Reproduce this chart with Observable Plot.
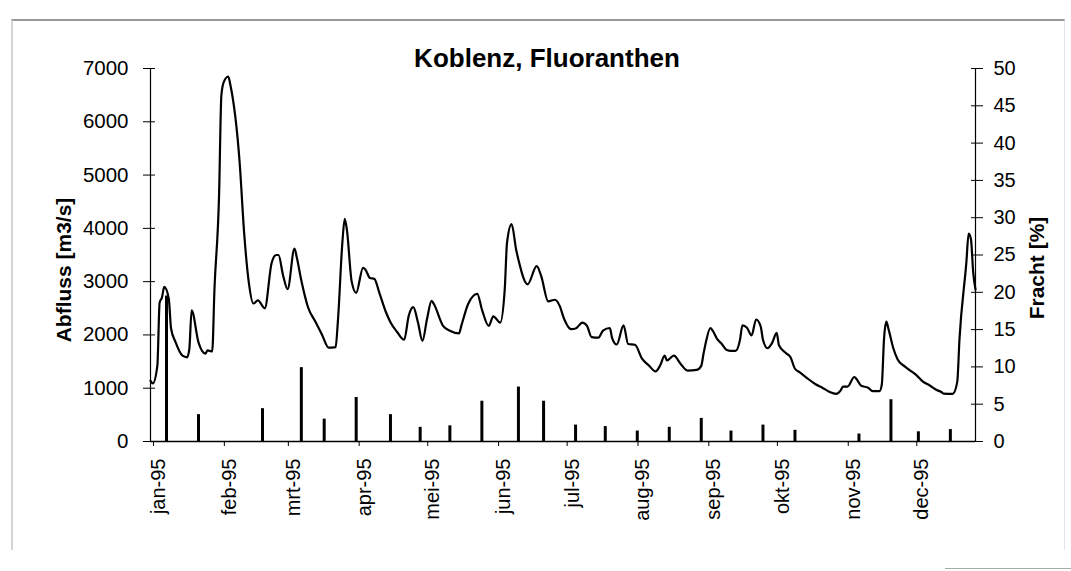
<!DOCTYPE html>
<html>
<head>
<meta charset="utf-8">
<script src="https://cdn.jsdelivr.net/npm/d3@7"></script>
<script src="https://cdn.jsdelivr.net/npm/@observablehq/plot@0.6"></script>
<style>
  html, body { margin: 0; padding: 0; background: #fff; }
  #wrap { position: relative; width: 1071px; height: 571px; overflow: hidden; font-family: "Liberation Sans", Arial, sans-serif; }
  #frame { position: absolute; left: 11px; top: 19px; width: 1051px; height: 529px;
           border-top: 2px solid #999; border-left: 2px solid #d4d4d4; border-right: 1px solid #e4e4e4; }
  #corner { position: absolute; left: 945px; top: 568px; width: 126px; height: 1px; background: #aaa; }
  #title { position: absolute; left: 547px; top: 45px; transform: translateX(-50%);
           font-size: 26px; line-height: 26px; font-weight: bold; white-space: nowrap; color: #000; }
  #chart { position: absolute; left: 0; top: 0; }
</style>
</head>
<body>
<div id="wrap">
  <div id="frame"></div>
  <div id="corner"></div>
  <div id="chart"></div>
  <div id="title">Koblenz, Fluoranthen</div>
</div>
<script>
// ---- data ----
// discharge (Abfluss, m3/s): day of year 1995 (0 = 1 Jan) and value
const flowDays = [0,1,3,4,5,6,8,9,11,14,16,17,18,21,24,25,27,28,30,31,32,34,35,39,41,43,45,47,50,53,55,56,58,60,63,64,66,69,72,75,78,81,82,84,85,86,88,90,93,94,96,98,100,103,105,108,111,113,115,117,119,121,123,124,128,131,135,136,139,143,145,148,150,153,155,156,158,160,161,165,169,171,174,177,179,181,184,186,189,191,193,196,198,201,202,204,207,209,212,215,218,221,223,225,226,229,232,235,239,241,242,243,245,246,248,250,252,254,256,258,259,261,263,265,267,268,270,272,274,275,278,280,282,284,287,291,294,297,300,302,303,305,308,309,311,314,316,319,320,321,322,323,325,327,330,332,335,338,341,344,346,347,351,353,354,357,358,359,360,361];
const flowValues = [1140,1090,1425,2610,2700,2900,2680,2120,1860,1610,1580,1740,2460,1860,1650,1710,1690,2870,4615,6490,6740,6850,6680,5240,3900,2990,2590,2650,2500,3350,3500,3500,3120,2860,3620,3460,3020,2510,2260,2010,1760,1770,2260,3760,4180,3950,3010,2790,3260,3230,3070,3050,2810,2430,2240,2050,1910,2360,2520,2240,1890,2300,2640,2580,2170,2080,2030,2170,2580,2770,2480,2170,2350,2230,2850,3730,4080,3600,3410,2950,3290,3100,2630,2660,2550,2300,2110,2120,2230,2170,1960,1950,2080,2130,1940,1820,2180,1830,1815,1560,1430,1315,1425,1610,1520,1610,1455,1330,1345,1420,1650,1860,2130,2080,1920,1830,1720,1700,1700,1920,2180,2135,1990,2290,2160,1910,1750,1850,2040,1805,1660,1585,1365,1300,1200,1075,1010,935,895,960,1030,1030,1210,1170,1045,1010,945,945,1070,1945,2250,2100,1755,1535,1410,1345,1250,1125,1050,965,930,900,895,1115,1925,3360,3900,3800,3175,2850];

// load share (Fracht, %): sample day of year and value
const loadDays = [7,21,49,66,76,90,105,118,131,145,161,172,186,199,213,227,241,254,268,282,310,324,336,350];
const loadValues = [19.5,3.6,4.4,9.9,3.0,5.9,3.6,1.9,2.1,5.4,7.3,5.4,2.2,2.0,1.4,1.9,3.1,1.4,2.2,1.5,1.0,5.6,1.3,1.6];

// axis ticks and labels
const flowTicks = [0,1000,2000,3000,4000,5000,6000,7000];
const loadTicks = [0,5,10,15,20,25,30,35,40,45,50];
const monthLabels = ["jan","feb","mrt","apr","mei","jun","jul","aug","sep","okt","nov","dec"];
const yearSuffix = "-95";
const flowMax = 7000, loadMax = 50;
const k = flowMax / loadMax; // load axis shares the same vertical extent

// ---- build tables ----
const day = d => new Date(Date.UTC(1995, 0, 1 + d));
const flow = flowDays.map((d, i) => ({date: day(d), value: flowValues[i]}));
const load = loadDays.map((d, i) => ({date: day(d), value: loadValues[i]}));
const monthTicks = d3.utcMonths(day(0), day(335));

const font = '"Liberation Sans", Arial, sans-serif';

const chart = Plot.plot({
  width: 1071,
  height: 571,
  marginLeft: 150,
  marginRight: 96,
  marginTop: 68,
  marginBottom: 130,
  style: {fontFamily: font, fontSize: "20px", color: "#000", background: "transparent", overflow: "visible"},
  x: {type: "utc", domain: [day(0), day(361)]},
  y: {domain: [0, flowMax]},
  marks: [
    // axis lines
    Plot.ruleX([day(0)], {stroke: "#000", strokeWidth: 1.2}),
    Plot.ruleX([day(361)], {stroke: "#000", strokeWidth: 1.2}),
    Plot.ruleY([0], {stroke: "#000", strokeWidth: 1.5}),
    // load bars (right axis)
    Plot.ruleX(load, {x: "date", y1: 0, y2: d => d.value * k, stroke: "#000", strokeWidth: 3}),
    // discharge line (left axis)
    Plot.line(flow, {x: "date", y: "value", stroke: "#000", strokeWidth: 2.2, curve: "monotone-x"}),
    // left axis
    Plot.axisY({anchor: "left", ticks: flowTicks, tickSize: 12, tickPadding: 15, dx: 5,
                fontSize: 20.5, label: null, tickFormat: d => String(d)}),
    // right axis
    Plot.axisY({anchor: "right", ticks: loadTicks.map(v => v * k), tickSize: 12, tickPadding: 11, dx: -5,
                fontSize: 20, label: null, tickFormat: d => String(Math.round(d / k))}),
    // bottom axis: tick marks
    Plot.axisX({anchor: "bottom", ticks: monthTicks, tickSize: 5, dx: 3, label: null, tickFormat: () => ""}),
    // bottom axis: labels
    Plot.axisX({anchor: "bottom", ticks: monthTicks, tickSize: 0, tickPadding: 17, dx: 8, tickRotate: -90,
                fontSize: 20, label: null,
                tickFormat: d => monthLabels[d.getUTCMonth()] + yearSuffix}),
    // axis titles
    Plot.text(["Abfluss [m3/s]"], {frameAnchor: "left", text: d => d, rotate: -90, dx: -86, dy: 15,
                                    textAnchor: "middle", fontWeight: "bold", fontSize: 21}),
    Plot.text(["Fracht [%]"], {frameAnchor: "right", text: d => d, rotate: -90, dx: 62, dy: 13,
                                textAnchor: "middle", fontWeight: "bold", fontSize: 21})
  ]
});
document.getElementById("chart").appendChild(chart);
</script>
</body>
</html>
